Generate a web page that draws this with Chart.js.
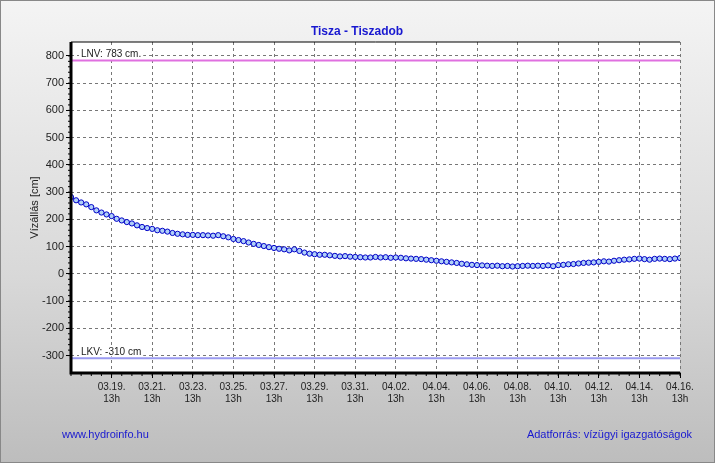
<!DOCTYPE html>
<html>
<head>
<meta charset="utf-8">
<script src="https://cdn.jsdelivr.net/npm/chart.js@4"></script>
<style>
  html, body { margin: 0; padding: 0; }
  body { width: 715px; height: 463px; background: linear-gradient(#f4f4f4, #d8d8d8 60%, #bdbdbd); }
  #wrap { position: relative; width: 715px; height: 463px; box-sizing: border-box; border: 1px solid #888; }
</style>
</head>
<body>
<div id="wrap"><canvas id="chart" width="713" height="461"></canvas></div>
<script>
// hours since 03.17 13h, one reading every 6 hours
const startDay = 17;
const stepHours = 6;
const levels = [
  282, 270, 262, 255, 245, 233, 225, 218, 212, 202, 196, 190, 185, 178, 172, 168,
  165, 160, 158, 155, 150, 147, 145, 143, 143, 142, 142, 141, 140, 142, 138, 134,
  128, 124, 120, 115, 110, 106, 102, 98, 95, 92, 90, 86, 90, 84, 78, 74,
  72, 70, 70, 68, 66, 64, 65, 63, 62, 61, 60, 60, 62, 60, 61, 59,
  60, 59, 57, 56, 55, 54, 52, 50, 48, 46, 44, 42, 40, 37, 35, 33,
  32, 31, 30, 29, 30, 28, 29, 27, 28, 29, 30, 29, 30, 29, 31, 28,
  32, 33, 35, 36, 38, 40, 41, 42, 44, 46, 45, 48, 50, 52, 53, 55,
  56, 54, 52, 55, 56, 55, 54, 56, 58
];
const xTicks = [48, 96, 144, 192, 240, 288, 336, 384, 432, 480, 528, 576, 624, 672, 720];
const lnv = 783;
const lkv = -310;

const points = levels.map((v, i) => ({ x: i * stepHours, y: v }));

function dateLabel(h) {
  let d = startDay + Math.round(h / 24);
  let m = 3;
  if (d > 31) { d -= 31; m = 4; }
  return [String(m).padStart(2, '0') + '.' + String(d).padStart(2, '0') + '.', '13h'];
}

const decor = {
  id: 'decor',
  beforeDraw(chart) {
    const { ctx, chartArea: a } = chart;
    ctx.save();
    ctx.fillStyle = '#fff';
    ctx.fillRect(a.left, a.top, a.right - a.left, a.bottom - a.top);
    ctx.restore();
  },
  beforeDatasetsDraw(chart) {
    const { ctx, chartArea: a, scales: { y } } = chart;
    ctx.save();
    ctx.lineWidth = 2;
    ctx.strokeStyle = '#e070e0';
    let py = y.getPixelForValue(lnv);
    ctx.beginPath(); ctx.moveTo(a.left, py); ctx.lineTo(a.right, py); ctx.stroke();
    ctx.strokeStyle = '#9a9af0';
    py = y.getPixelForValue(lkv);
    ctx.beginPath(); ctx.moveTo(a.left, py); ctx.lineTo(a.right, py); ctx.stroke();
    ctx.font = '10px "Liberation Sans", Arial, sans-serif';
    ctx.textBaseline = 'bottom';
    [['LNV: ' + lnv + ' cm.', lnv], ['LKV: ' + lkv + ' cm', lkv]].forEach(([t, v]) => {
      const ty = y.getPixelForValue(v) - 1;
      const w = ctx.measureText(t).width;
      ctx.fillStyle = '#fff';
      ctx.fillRect(a.left + 8, ty - 11, w + 4, 10);
      ctx.fillStyle = '#222';
      ctx.fillText(t, a.left + 10, ty);
    });
    ctx.restore();
  },
  afterDraw(chart) {
    const { ctx, chartArea: a, scales: { x, y } } = chart;
    ctx.save();
    ctx.strokeStyle = '#000';
    ctx.lineWidth = 1;
    ctx.beginPath(); ctx.moveTo(a.left, a.top); ctx.lineTo(a.right, a.top); ctx.stroke();
    ctx.lineWidth = 3;
    ctx.beginPath(); ctx.moveTo(a.left, a.top); ctx.lineTo(a.left, a.bottom); ctx.lineTo(a.right, a.bottom); ctx.stroke();
    // minor ticks
    ctx.lineWidth = 1;
    for (let h = 0; h <= 720; h += 12) {
      const px = x.getPixelForValue(h);
      ctx.beginPath(); ctx.moveTo(px, a.bottom); ctx.lineTo(px, a.bottom + 3); ctx.stroke();
    }
    for (let v = -300; v <= 800; v += 20) {
      const py = y.getPixelForValue(v);
      ctx.beginPath(); ctx.moveTo(a.left - 3, py); ctx.lineTo(a.left, py); ctx.stroke();
    }
    ctx.fillStyle = '#1818d0';
    ctx.font = 'bold 12px "Liberation Sans", Arial, sans-serif';
    ctx.textAlign = 'center';
    ctx.fillText('Tisza - Tiszadob', 356, 34);
    ctx.font = '11px "Liberation Sans", Arial, sans-serif';
    ctx.textAlign = 'left';
    ctx.fillText('www.hydroinfo.hu', 61, 437);
    ctx.textAlign = 'right';
    ctx.fillText('Adatforrás: vízügyi igazgatóságok', 691, 437);
    ctx.restore();
  }
};

new Chart(document.getElementById('chart'), {
  type: 'line',
  data: {
    datasets: [{
      data: points,
      borderColor: '#0000c8',
      borderWidth: 1.5,
      pointRadius: 2.6,
      pointBackgroundColor: '#b0d0f8',
      pointBorderColor: '#0000c8',
      pointBorderWidth: 1,
      tension: 0
    }]
  },
  options: {
    responsive: false,
    animation: false,
    layout: { padding: { left: 27, right: 34, top: 41, bottom: 46 } },
    plugins: { legend: { display: false }, tooltip: { enabled: false } },
    scales: {
      x: {
        type: 'linear', min: 0, max: 720,
        afterBuildTicks: s => { s.ticks = xTicks.map(v => ({ value: v })); },
        afterFit: s => { s.height = 43; },
        ticks: { callback: v => dateLabel(v), color: '#222', font: { size: 10, family: '"Liberation Sans", Arial' }, maxRotation: 0, autoSkip: false },
        grid: { color: '#777', tickLength: 5, tickColor: '#000' },
        border: { dash: [3, 3], display: false }
      },
      y: {
        min: -364, max: 851,
        afterBuildTicks: s => { s.ticks = []; for (let v = -300; v <= 800; v += 100) s.ticks.push({ value: v }); },
        afterFit: s => { s.width = 43; },
        ticks: { color: '#222', font: { size: 11, family: '"Liberation Sans", Arial' }, padding: 2 },
        grid: { color: '#777', tickLength: 5, tickColor: '#000' },
        border: { dash: [3, 3], display: false },
        title: { display: true, text: 'Vízállás [cm]', color: '#222', font: { size: 11, family: '"Liberation Sans", Arial' }, padding: { top: 0, bottom: 0, y: 0 } }
      }
    }
  },
  plugins: [decor]
});
</script>
</body>
</html>
